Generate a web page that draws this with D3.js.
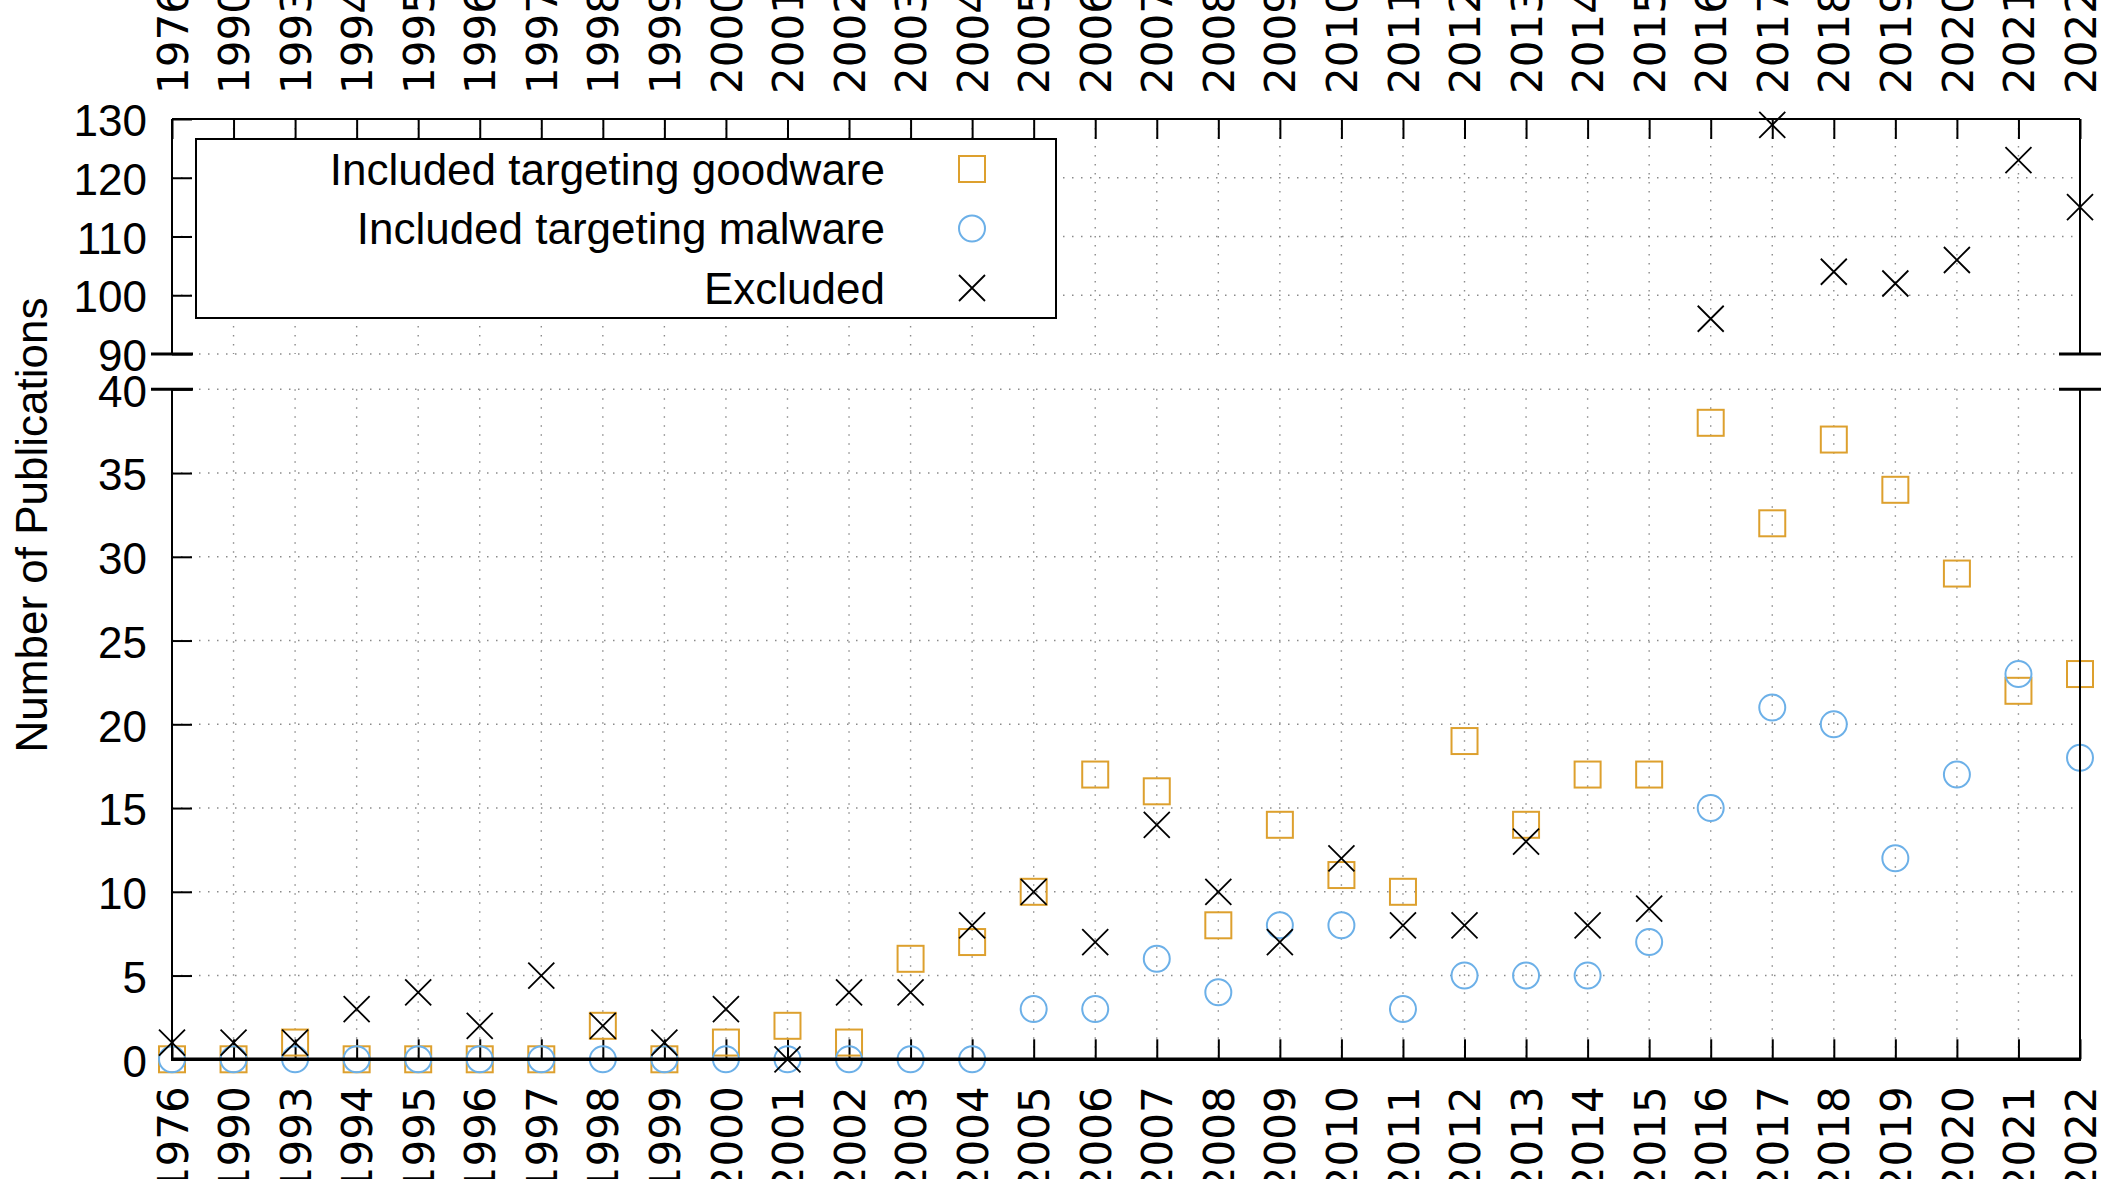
<!DOCTYPE html>
<html><head><meta charset="utf-8">
<script src="https://cdn.jsdelivr.net/npm/d3@7"></script>
<style>body{margin:0;background:#fff;} svg{display:block;}</style>
</head><body><svg id="c" width="2125" height="1179"></svg>
<script>
const years = ["1976","1990","1993","1994","1995","1996","1997","1998","1999","2000","2001","2002","2003","2004","2005","2006","2007","2008","2009","2010","2011","2012","2013","2014","2015","2016","2017","2018","2019","2020","2021","2022"];
const goodware = [0,0,1,0,0, 0,0,2,0,1, 2,1,6,7,10, 17,16,8,14,11, 10,19,14,17,17, 38,32,37,34,29, 22,23];
const malware  = [0,0,0,0,0, 0,0,0,0,0, 0,0,0,0,3, 3,6,4,8,8, 3,5,5,5,7, 15,21,20,12,17, 23,18];
const excluded = [1,1,1,3,4, 2,5,2,1,3, 0,4,4,8,10, 7,14,10,7,12, 8,8,13,8,9, 96,129,104,102,106, 123,115];
const upperTicks = [90,100,110,120,130];
const lowerTicks = [0,5,10,15,20,25,30,35,40];
const seriesNames = ["Included targeting goodware","Included targeting malware","Excluded"];
const yLabel = "Number of Publications";

const svg = d3.select("#c");
const L = 172, R = 2080;
const x = d3.scalePoint().domain(years).range([L, R]).padding(0);
const yUp = d3.scaleLinear().domain([90,130]).range([354,119]);
const yLo = d3.scaleLinear().domain([0,40]).range([1059.3,389.3]);
const panels = [
  {y: yUp, ticks: upperTicks},
  {y: yLo, ticks: lowerTicks}
];
const ORANGE = "#DDA02E", BLUE = "#6CB0E8";
const TICKFONT = "'Liberation Sans', Arial, sans-serif";
const XFONT = "'DejaVu Sans', sans-serif";

// grid
const grid = svg.append("g").attr("stroke","#8a8a8a").attr("stroke-width",1.4).attr("stroke-dasharray","1.5,7.5").attr("fill","none");
panels.forEach(p => {
  const [y0,y1] = p.y.range();
  grid.selectAll(null).data(p.ticks).enter().append("line")
    .attr("x1",L).attr("x2",R).attr("y1",d=>p.y(d)).attr("y2",d=>p.y(d));
  grid.selectAll(null).data(years).enter().append("line")
    .attr("x1",d=>x(d)).attr("x2",d=>x(d)).attr("y1",y1).attr("y2",y0);
});

// legend box (covers grid)
const leg = svg.append("g");
leg.append("rect").attr("x",196).attr("y",139).attr("width",860).attr("height",179)
  .attr("fill","#fff").attr("stroke","#000").attr("stroke-width",2);

// y axes (ticks inward, labels left)
panels.forEach(p => {
  const ax = d3.axisLeft(p.y).tickValues(p.ticks).tickSizeInner(-20).tickSizeOuter(0).tickPadding(25);
  const g = svg.append("g").attr("transform",`translate(${L},0)`).call(ax);
  g.select(".domain").remove();
  g.selectAll(".tick line").attr("stroke","#000").attr("stroke-width",2);
  g.selectAll(".tick text").attr("font-family",TICKFONT).attr("font-size",44).attr("fill","#000").attr("dy","0.38em");
});

// x axes top (upper panel) and bottom (lower panel)
const axTop = d3.axisTop(x).tickSizeInner(-20).tickSizeOuter(0);
const gTop = svg.append("g").attr("transform",`translate(0,${yUp.range()[1]})`).call(axTop);
gTop.select(".domain").remove();
gTop.selectAll(".tick line").attr("stroke","#000").attr("stroke-width",2);
gTop.selectAll(".tick text").attr("font-family",XFONT).attr("font-size",42).attr("fill","#000")
  .attr("x",0).attr("y",0).attr("dy","0.36em").attr("text-anchor","start")
  .attr("transform","translate(0,-25) rotate(-90)");

const axBot = d3.axisBottom(x).tickSizeInner(-20).tickSizeOuter(0);
const gBot = svg.append("g").attr("transform",`translate(0,${yLo.range()[0]})`).call(axBot);
gBot.select(".domain").remove();
gBot.selectAll(".tick line").attr("stroke","#000").attr("stroke-width",2);
gBot.selectAll(".tick text").attr("font-family",XFONT).attr("font-size",42).attr("fill","#000")
  .attr("x",0).attr("y",0).attr("dy","0.36em").attr("text-anchor","end")
  .attr("transform","translate(0,27) rotate(-90)");

// markers
function marker(g, type, cx, cy) {
  if (type === 0) {
    g.append("rect").attr("x",cx-13).attr("y",cy-13).attr("width",26).attr("height",26)
      .attr("fill","none").attr("stroke",ORANGE).attr("stroke-width",2);
  } else if (type === 1) {
    g.append("circle").attr("cx",cx).attr("cy",cy).attr("r",13)
      .attr("fill","none").attr("stroke",BLUE).attr("stroke-width",2);
  } else {
    g.append("path").attr("d",`M${cx-13},${cy-13}L${cx+13},${cy+13}M${cx-13},${cy+13}L${cx+13},${cy-13}`)
      .attr("fill","none").attr("stroke","#000").attr("stroke-width",1.8);
  }
}
const pts = svg.append("g");
[goodware, malware, excluded].forEach((vals, si) => {
  vals.forEach((v, i) => {
    const p = panels.find(pp => v >= pp.y.domain()[0] && v <= pp.y.domain()[1]);
    if (!p) return;
    marker(pts, si, x(years[i]), p.y(v));
  });
});

// borders
const border = svg.append("g").attr("stroke","#000").attr("fill","none");
border.append("line").attr("x1",L).attr("x2",R).attr("y1",yUp(130)).attr("y2",yUp(130)).attr("stroke-width",2);
border.append("line").attr("x1",L-1).attr("x2",R+1).attr("y1",yLo(0)).attr("y2",yLo(0)).attr("stroke-width",3.5);
[L, R].forEach(xx => {
  border.append("line").attr("x1",xx).attr("x2",xx).attr("y1",yUp(130)).attr("y2",yUp(90)).attr("stroke-width",2);
  border.append("line").attr("x1",xx).attr("x2",xx).attr("y1",yLo(40)).attr("y2",yLo(0)).attr("stroke-width",2);
  [yUp(90), yLo(40)].forEach(yy => {
    border.append("line").attr("x1",xx-21).attr("x2",xx+21).attr("y1",yy).attr("y2",yy).attr("stroke-width",3);
  });
});

// legend entries
const rowY = [169, 228.5, 288];
seriesNames.forEach((n, i) => {
  leg.append("text").attr("x",885).attr("y",rowY[i]).attr("dy","0.36em").attr("text-anchor","end")
    .attr("font-family",TICKFONT).attr("font-size",44).attr("fill","#000").text(n);
  marker(leg, i, 972, rowY[i]);
});

// y label
svg.append("text").attr("transform","translate(31,525) rotate(-90)").attr("dy","0.36em")
  .attr("text-anchor","middle").attr("font-family",TICKFONT).attr("font-size",44).attr("fill","#000").text(yLabel);
</script></body></html>
